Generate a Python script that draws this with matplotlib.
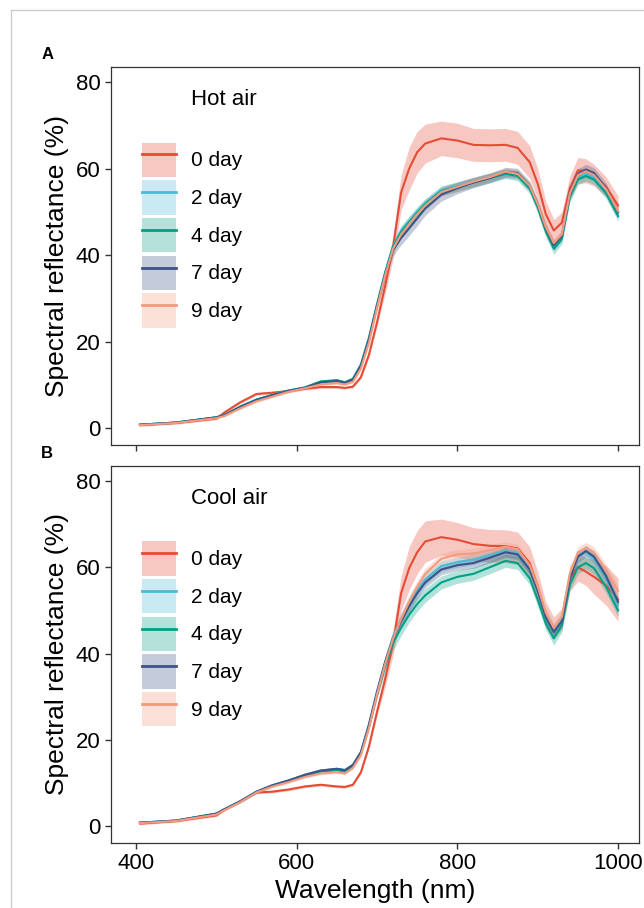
import matplotlib
matplotlib.use("Agg")
import matplotlib.pyplot as plt
from matplotlib.patches import Patch
from matplotlib.lines import Line2D
import numpy as np

plt.rcParams['font.family'] = ['Liberation Sans', 'DejaVu Sans']

# wavelength grid (nm)
wl = [405, 450, 500, 510, 530, 550, 570, 590, 610, 630, 650, 660, 670, 680, 690,
      700, 710, 720, 730, 740, 750, 760, 780, 800, 820, 840, 860, 875, 890, 900,
      910, 920, 930, 940, 950, 960, 970, 985, 1000]

labels = ["0 day", "2 day", "4 day", "7 day", "9 day"]
colors = ["#E64B35", "#4DBBD5", "#00A087", "#3C5488", "#F39B7F"]

# Hot air, mean reflectance (%)
hot_0 = [0.7, 1.2, 2.2, 3.6, 6.0, 7.9, 8.2, 8.6, 9.1, 9.5, 9.5, 9.3, 9.6, 11.8, 17.0,
         24.5, 32.8, 41.9, 54.5, 60.0, 63.8, 65.8, 67.0, 66.5, 65.5, 65.4, 65.5, 64.8, 61.5, 56.5,
         49.5, 45.7, 47.5, 55.5, 59.6, 59.5, 58.5, 55.8, 51.5]
hot_2 = [0.8, 1.3, 2.5, 3.0, 5.0, 6.6, 7.7, 8.7, 9.4, 10.7, 11.0, 10.6, 11.4, 14.8, 21.0,
         28.7, 36.0, 42.2, 45.6, 47.8, 50.0, 52.0, 55.0, 56.0, 57.0, 58.0, 59.0, 58.6, 55.8, 51.5,
         46.2, 42.2, 44.3, 54.0, 58.0, 58.8, 58.0, 54.8, 49.5]
hot_4 = [0.8, 1.3, 2.5, 3.0, 5.0, 6.6, 7.7, 8.7, 9.4, 10.8, 11.1, 10.6, 11.4, 14.6, 20.8,
         28.5, 35.8, 42.0, 45.3, 47.6, 49.8, 51.8, 54.8, 55.8, 56.8, 57.8, 58.8, 58.3, 55.4, 51.0,
         45.5, 41.5, 43.8, 53.5, 57.5, 58.3, 57.5, 54.3, 49.0]
hot_7 = [0.8, 1.3, 2.5, 3.0, 4.9, 6.5, 7.6, 8.6, 9.3, 10.6, 10.9, 10.5, 11.2, 14.4, 20.5,
         28.2, 35.3, 41.2, 44.0, 46.2, 48.5, 50.8, 54.0, 55.5, 56.8, 57.8, 59.2, 59.0, 56.0, 51.8,
         46.2, 42.3, 44.5, 54.5, 58.8, 59.8, 59.0, 55.5, 50.0]
hot_9 = [0.7, 1.2, 2.3, 2.8, 4.6, 6.2, 7.3, 8.4, 9.2, 10.1, 10.4, 10.1, 10.7, 13.8, 19.8,
         27.8, 35.2, 41.5, 44.8, 47.2, 49.5, 51.5, 54.6, 55.8, 57.0, 58.0, 59.3, 58.8, 56.0, 51.8,
         46.5, 42.8, 44.8, 54.3, 58.5, 59.4, 58.5, 55.3, 50.2]

# Hot air, ribbon half-width
sd_hot_0 = [0.3, 0.3, 0.3, 0.3, 0.3, 0.3, 0.3, 0.3, 0.3, 0.3, 0.3, 0.3, 0.3, 0.4, 0.6,
            1.0, 1.8, 2.8, 4.0, 5.0, 4.8, 4.5, 4.0, 4.0, 3.8, 3.8, 3.8, 3.8, 3.8, 3.5,
            3.0, 2.5, 2.5, 2.8, 3.0, 2.8, 2.5, 2.3, 2.2]
sd_hot_2 = [0.2, 0.2, 0.2, 0.2, 0.3, 0.3, 0.3, 0.3, 0.3, 0.3, 0.3, 0.3, 0.3, 0.4, 0.5,
            0.7, 0.9, 1.0, 1.1, 1.1, 1.1, 1.0, 1.0, 1.0, 1.0, 1.0, 1.0, 1.0, 1.0, 1.0,
            1.0, 1.0, 1.0, 1.0, 1.0, 1.0, 1.0, 1.0, 1.0]
sd_hot_4 = [0.2, 0.2, 0.2, 0.2, 0.3, 0.3, 0.3, 0.3, 0.3, 0.3, 0.3, 0.3, 0.3, 0.4, 0.6,
            0.8, 1.1, 1.3, 1.4, 1.4, 1.3, 1.2, 1.1, 1.1, 1.1, 1.1, 1.1, 1.1, 1.2, 1.3,
            1.3, 1.3, 1.2, 1.2, 1.2, 1.2, 1.2, 1.2, 1.2]
sd_hot_7 = [0.2, 0.2, 0.2, 0.2, 0.3, 0.3, 0.3, 0.3, 0.3, 0.3, 0.3, 0.3, 0.3, 0.4, 0.6,
            0.8, 1.1, 1.4, 1.6, 1.7, 1.7, 1.6, 1.5, 1.3, 1.2, 1.1, 1.1, 1.1, 1.1, 1.1,
            1.1, 1.1, 1.1, 1.1, 1.2, 1.2, 1.2, 1.2, 1.2]
sd_hot_9 = [0.2, 0.2, 0.2, 0.2, 0.3, 0.3, 0.3, 0.3, 0.3, 0.3, 0.3, 0.3, 0.3, 0.4, 0.5,
            0.7, 0.9, 1.0, 1.0, 1.0, 1.0, 1.0, 1.0, 1.0, 1.0, 1.0, 1.0, 1.0, 1.0, 1.0,
            1.0, 1.0, 1.0, 1.0, 1.0, 1.0, 1.0, 1.0, 1.0]

# Cool air, mean reflectance (%)
cool_0 = [0.6, 1.2, 2.5, 3.8, 5.8, 7.8, 8.0, 8.5, 9.2, 9.6, 9.2, 9.1, 9.6, 12.5, 18.5,
          26.5, 34.0, 42.4, 54.0, 59.8, 63.5, 66.0, 67.0, 66.4, 65.4, 65.0, 64.9, 64.4, 61.0, 55.5,
          49.0, 46.0, 48.0, 57.5, 60.0, 59.0, 57.8, 55.8, 52.5]
cool_2 = [0.8, 1.3, 2.9, 3.9, 5.8, 8.0, 9.5, 10.6, 11.9, 12.9, 13.3, 13.0, 14.2, 17.2, 23.5,
          31.0, 38.0, 44.0, 48.0, 51.8, 54.8, 57.2, 60.3, 61.2, 61.8, 62.8, 63.8, 63.3, 59.8, 54.8,
          48.8, 45.3, 48.0, 58.0, 62.5, 63.5, 62.0, 57.5, 51.5]
cool_4 = [0.8, 1.3, 2.9, 3.9, 5.7, 7.9, 9.4, 10.5, 11.7, 12.7, 13.0, 12.7, 13.9, 16.8, 23.0,
          30.5, 37.0, 42.5, 46.0, 49.0, 51.5, 53.5, 56.5, 57.8, 58.5, 60.0, 61.5, 61.0, 57.5, 52.5,
          47.0, 43.5, 46.5, 56.0, 60.0, 61.0, 59.8, 55.5, 50.0]
cool_7 = [0.8, 1.3, 2.9, 3.9, 5.8, 8.0, 9.5, 10.6, 11.9, 12.9, 13.3, 13.0, 14.2, 17.2, 23.6,
          31.2, 38.0, 43.6, 47.5, 51.0, 54.0, 56.5, 59.5, 60.5, 61.0, 62.2, 63.5, 63.0, 59.5, 54.5,
          48.5, 45.0, 47.5, 57.5, 62.5, 63.8, 62.5, 58.0, 52.0]
cool_9 = [0.7, 1.2, 2.7, 3.7, 5.6, 7.8, 9.2, 10.2, 11.4, 12.2, 12.5, 12.2, 13.5, 16.5, 22.8,
          30.5, 37.5, 43.5, 48.0, 52.0, 55.5, 58.5, 62.0, 63.0, 63.2, 64.0, 64.8, 64.2, 60.5, 55.5,
          49.5, 46.0, 48.5, 58.5, 63.5, 64.5, 63.5, 59.5, 54.5]

# Cool air, ribbon half-width
sd_cool_0 = [0.3, 0.3, 0.3, 0.3, 0.3, 0.3, 0.3, 0.3, 0.3, 0.3, 0.3, 0.3, 0.3, 0.4, 0.6,
             1.0, 1.8, 2.8, 4.0, 5.0, 5.0, 4.8, 4.2, 4.0, 3.8, 3.8, 3.8, 3.8, 3.8, 3.5,
             3.0, 2.5, 2.5, 3.0, 3.2, 3.2, 4.0, 4.6, 5.0]
sd_cool_2 = [0.2, 0.2, 0.2, 0.2, 0.3, 0.3, 0.3, 0.3, 0.3, 0.3, 0.3, 0.3, 0.3, 0.4, 0.6,
             0.9, 1.2, 1.4, 1.5, 1.5, 1.4, 1.3, 1.2, 1.2, 1.2, 1.2, 1.2, 1.2, 1.2, 1.2,
             1.2, 1.2, 1.2, 1.2, 1.2, 1.2, 1.2, 1.2, 1.2]
sd_cool_4 = [0.2, 0.2, 0.2, 0.2, 0.3, 0.3, 0.3, 0.3, 0.3, 0.3, 0.3, 0.3, 0.3, 0.4, 0.6,
             1.0, 1.4, 1.7, 1.8, 1.8, 1.7, 1.6, 1.5, 1.5, 1.5, 1.5, 1.5, 1.5, 1.5, 1.5,
             1.5, 1.5, 1.5, 1.5, 1.5, 1.4, 1.4, 1.4, 1.4]
sd_cool_7 = [0.2, 0.2, 0.2, 0.2, 0.3, 0.3, 0.3, 0.3, 0.3, 0.3, 0.3, 0.3, 0.3, 0.4, 0.6,
             0.9, 1.2, 1.3, 1.4, 1.4, 1.3, 1.2, 1.2, 1.2, 1.2, 1.2, 1.2, 1.2, 1.2, 1.2,
             1.2, 1.2, 1.2, 1.2, 1.3, 1.3, 1.3, 1.3, 1.3]
sd_cool_9 = [0.2, 0.2, 0.2, 0.2, 0.3, 0.3, 0.3, 0.3, 0.3, 0.3, 0.3, 0.3, 0.3, 0.4, 0.6,
             0.9, 1.2, 1.4, 1.5, 1.5, 1.4, 1.3, 1.2, 1.2, 1.2, 1.2, 1.2, 1.2, 1.2, 1.2,
             1.2, 1.2, 1.2, 1.2, 1.3, 1.3, 1.3, 1.3, 1.3]

hot = [hot_0, hot_2, hot_4, hot_7, hot_9]
sd_hot = [sd_hot_0, sd_hot_2, sd_hot_4, sd_hot_7, sd_hot_9]
cool = [cool_0, cool_2, cool_4, cool_7, cool_9]
sd_cool = [sd_cool_0, sd_cool_2, sd_cool_4, sd_cool_7, sd_cool_9]

fig = plt.figure(figsize=(6.44, 9.08), dpi=100)
axA = fig.add_axes([0.1724, 0.5099, 0.8198, 0.4163])
axB = fig.add_axes([0.1724, 0.0716, 0.8198, 0.4152])

# light frame around the figure
fig.add_artist(Line2D([0.017, 1.0], [0.989, 0.989], color='#cccccc', lw=1))
fig.add_artist(Line2D([0.017, 0.017], [0.0, 0.989], color='#cccccc', lw=1))


def draw_panel(ax, means, sds, title, tag, show_x):
    x = np.array(wl)
    for m, s, c in zip(means, sds, colors):
        m = np.array(m)
        s = np.array(s)
        ax.fill_between(x, m - s, m + s, color=c, alpha=0.3, lw=0)
    for m, c in zip(means, colors):
        ax.plot(x, m, color=c, lw=1.5, solid_joinstyle='round')

    ax.set_xlim(369, 1026)
    ax.set_ylim(-3.9, 83.5)
    ax.set_xticks([400, 600, 800, 1000])
    ax.set_yticks([0, 20, 40, 60, 80])
    ax.tick_params(direction='out', length=4, width=1, color='#333333',
                   labelsize=16, labelcolor='black')
    for sp in ax.spines.values():
        sp.set_color('#333333')
        sp.set_linewidth(0.9)
    if not show_x:
        ax.set_xticklabels([])
    else:
        ax.set_xlabel('Wavelength (nm)', fontsize=19, labelpad=3)
    ax.set_ylabel('Spectral reflectance (%)', fontsize=19)
    ax.yaxis.set_label_coords(-0.079, 0.5)

    handles = [(Patch(facecolor=c, alpha=0.3, edgecolor='none'),
                Line2D([], [], color=c, lw=2)) for c in colors]
    ax.legend(handles, labels, loc='upper left', bbox_to_anchor=(0.058, 0.80),
              frameon=False, fontsize=15, handlelength=1.65, handleheight=2.16,
              labelspacing=0.16, handletextpad=0.72, borderpad=0, borderaxespad=0)
    ax.text(0.151, 0.913, title, transform=ax.transAxes, fontsize=16,
            ha='left', va='center')
    ax.text(-0.121, 1.032, tag, transform=ax.transAxes, fontsize=12,
            fontweight='bold', ha='center', va='center')


draw_panel(axA, hot, sd_hot, 'Hot air', 'A', False)
draw_panel(axB, cool, sd_cool, 'Cool air', 'B', True)

fig.savefig('out.png', dpi=100)
